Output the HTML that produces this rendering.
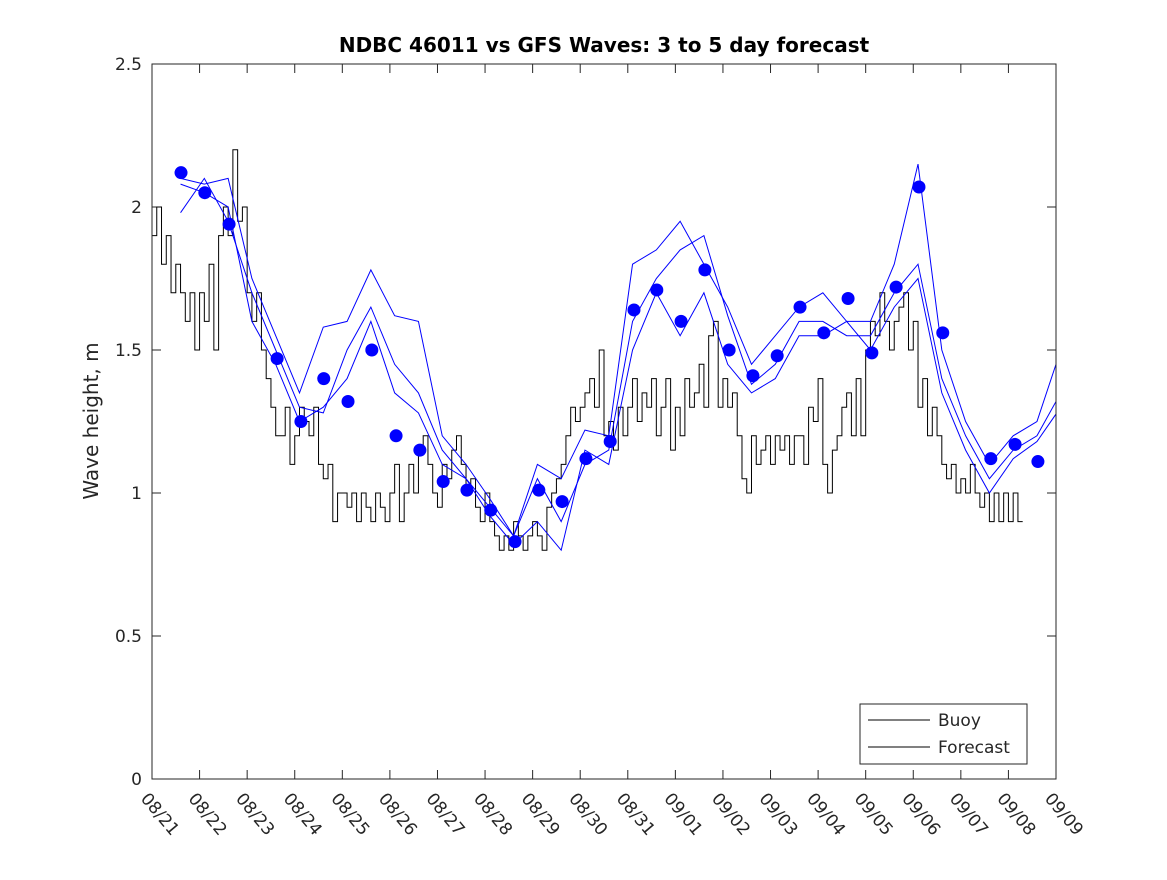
<!DOCTYPE html>
<html><head><meta charset="utf-8">
<style>
body{margin:0;background:#fff;}
svg text{font-family:"DejaVu Sans","Liberation Sans",sans-serif;fill:#262626;}
</style></head>
<body>
<svg id="chart" width="1167" height="875" viewBox="0 0 1167 875" xmlns="http://www.w3.org/2000/svg">
<defs><clipPath id="pc"><rect x="152" y="64" width="904" height="715"/></clipPath></defs>
<rect x="0" y="0" width="1167" height="875" fill="#fff"/>
<text x="604" y="52" text-anchor="middle" font-size="20" font-weight="bold" style="fill:#000">NDBC 46011 vs GFS Waves: 3 to 5 day forecast</text>
<text transform="translate(98,421) rotate(-90)" text-anchor="middle" font-size="20">Wave height, m</text>
<g id="axes"></g>
<g id="plot" clip-path="url(#pc)"></g>
<rect x="152" y="64" width="904" height="715" fill="none" stroke="#262626" stroke-width="1"/>
<g>
<rect x="860" y="704" width="167" height="60" fill="#fff" stroke="#262626"/>
<line x1="868" y1="720" x2="930" y2="720" stroke="#000"/>
<text x="938" y="726" font-size="17">Buoy</text>
<line x1="868" y1="747" x2="930" y2="747" stroke="#000"/>
<text x="938" y="753" font-size="17">Forecast</text>
</g>
</svg>
<script>
const xTickLabels=["08/21","08/22","08/23","08/24","08/25","08/26","08/27","08/28","08/29","08/30","08/31","09/01","09/02","09/03","09/04","09/05","09/06","09/07","09/08","09/09"];
const yTicks=[0,0.5,1,1.5,2,2.5];
const yTickLabels=["0","0.5","1","1.5","2","2.5"];
const buoyStart=0, buoyStep=0.1;
const buoyValues=[
1.9,2.0,1.8,1.9,1.7,1.8,1.7,1.6,1.7,1.5,
1.7,1.6,1.8,1.5,1.9,2.0,1.9,2.2,1.95,2.0,
1.7,1.6,1.7,1.5,1.4,1.3,1.2,1.2,1.3,1.1,
1.2,1.3,1.25,1.2,1.3,1.1,1.05,1.1,0.9,1.0,
1.0,0.95,1.0,0.9,1.0,0.95,0.9,1.0,0.95,0.9,
1.0,1.1,0.9,1.0,1.1,1.0,1.15,1.2,1.1,1.0,
0.95,1.1,1.05,1.15,1.2,1.1,1.0,1.05,0.95,0.9,
1.0,0.9,0.85,0.8,0.85,0.8,0.9,0.85,0.8,0.85,
0.9,0.85,0.8,0.95,1.0,1.05,1.1,1.2,1.3,1.25,
1.3,1.35,1.4,1.3,1.5,1.2,1.25,1.15,1.3,1.2,
1.3,1.4,1.25,1.35,1.3,1.4,1.2,1.3,1.4,1.15,
1.3,1.2,1.4,1.3,1.35,1.45,1.3,1.55,1.6,1.3,
1.4,1.3,1.35,1.2,1.05,1.0,1.2,1.1,1.15,1.2,
1.1,1.2,1.15,1.2,1.1,1.2,1.2,1.1,1.3,1.25,
1.4,1.1,1.0,1.15,1.2,1.3,1.35,1.2,1.4,1.2,
1.5,1.6,1.55,1.7,1.6,1.5,1.6,1.65,1.7,1.5,
1.6,1.3,1.4,1.2,1.3,1.2,1.1,1.05,1.1,1.0,
1.05,1.0,1.1,1.0,0.95,1.0,0.9,1.0,0.9,1.0,
0.9,1.0,0.9];
const dotDays=[0.61,1.11,1.62,2.63,3.13,3.61,4.12,4.62,5.13,5.63,6.12,6.62,7.12,7.63,8.13,8.62,9.12,9.63,10.13,10.61,11.12,11.62,12.13,12.63,13.14,13.62,14.12,14.63,15.13,15.64,16.12,16.62,17.63,18.14,18.62];
const dotValues=[2.12,2.05,1.94,1.47,1.25,1.40,1.32,1.50,1.20,1.15,1.04,1.01,0.94,0.83,1.01,0.97,1.12,1.18,1.64,1.71,1.60,1.78,1.50,1.41,1.48,1.65,1.56,1.68,1.49,1.72,2.07,1.56,1.12,1.17,1.11];
const fcStart=0.6, fcStep=0.5;
const forecast1=[2.1,2.08,2.1,1.75,1.55,1.35,1.58,1.6,1.78,1.62,1.6,1.2,1.1,0.98,0.85,1.1,1.05,1.22,1.2,1.8,1.85,1.95,1.8,1.65,1.45,1.55,1.65,1.7,1.6,1.6,1.8,2.15,1.5,1.25,1.1,1.2,1.25,1.5];
const forecast2=[1.98,2.1,1.95,1.7,1.5,1.3,1.28,1.5,1.65,1.45,1.35,1.15,1.05,0.95,0.85,1.05,0.9,1.1,1.15,1.6,1.75,1.85,1.9,1.62,1.38,1.45,1.6,1.6,1.55,1.55,1.7,1.8,1.4,1.2,1.05,1.15,1.2,1.35];
const forecast3=[2.08,2.05,2.0,1.6,1.45,1.25,1.3,1.4,1.6,1.35,1.28,1.1,1.05,0.92,0.82,0.9,0.8,1.15,1.1,1.5,1.7,1.55,1.7,1.45,1.35,1.4,1.55,1.55,1.6,1.5,1.65,1.75,1.35,1.15,1.0,1.12,1.18,1.3];

const X0=152,X1=1056,Y0=779,Y1=64,DAYS=19,YMAX=2.5;
const xs=d=>X0+(X1-X0)*d/DAYS;
const ys=v=>Y0-(Y0-Y1)*v/YMAX;
const NS="http://www.w3.org/2000/svg";
const g=document.getElementById('plot');
const ax=document.getElementById('axes');
function mk(tag,attrs,parent){const e=document.createElementNS(NS,tag);for(const k in attrs)e.setAttribute(k,attrs[k]);(parent||g).appendChild(e);return e;}

xTickLabels.forEach((lab,i)=>{
  const x=xs(i);
  const t=mk('line',{x1:x,y1:Y0,x2:x,y2:Y0-9,stroke:'#262626'},ax);
  
  
  const t2=mk('line',{x1:x,y1:Y1,x2:x,y2:Y1+9,stroke:'#262626'},ax);
  
  
  const tx=mk('text',{transform:`translate(${x-12},${Y0+20}) rotate(50)`,'font-size':'17'},ax);
  tx.textContent=lab;
  
  
});
yTicks.forEach((v,i)=>{
  const y=ys(v);
  const t=mk('line',{x1:X0,y1:y,x2:X0+9,y2:y,stroke:'#262626'},ax);
  
  
  const t2=mk('line',{x1:X1,y1:y,x2:X1-9,y2:y,stroke:'#262626'},ax);
  
  
  const tx=mk('text',{x:X0-10,y:y+6,'text-anchor':'end','font-size':'17'},ax);
  tx.textContent=yTickLabels[i];
  
  
});
let pts=[];
buoyValues.forEach((v,i)=>{const xa=xs(buoyStart+i*buoyStep),xb=xs(buoyStart+(i+1)*buoyStep);pts.push(xa+','+ys(v));pts.push(xb+','+ys(v));});
const bl=mk('polyline',{points:pts.join(' '),fill:'none',stroke:'#000','stroke-width':'1'});


[forecast1,forecast2,forecast3].forEach((arr,k)=>{
  const p=arr.map((v,i)=>xs(fcStart+i*fcStep)+','+ys(v)).join(' ');
  const l=mk('polyline',{points:p,fill:'none',stroke:'#0000ff','stroke-width':'1'});
  
  
});
dotDays.forEach((d,i)=>{
  const c=mk('circle',{cx:xs(d),cy:ys(dotValues[i]),r:6.5,fill:'#0000ff'});
  
  
});
</script>
</body></html>
